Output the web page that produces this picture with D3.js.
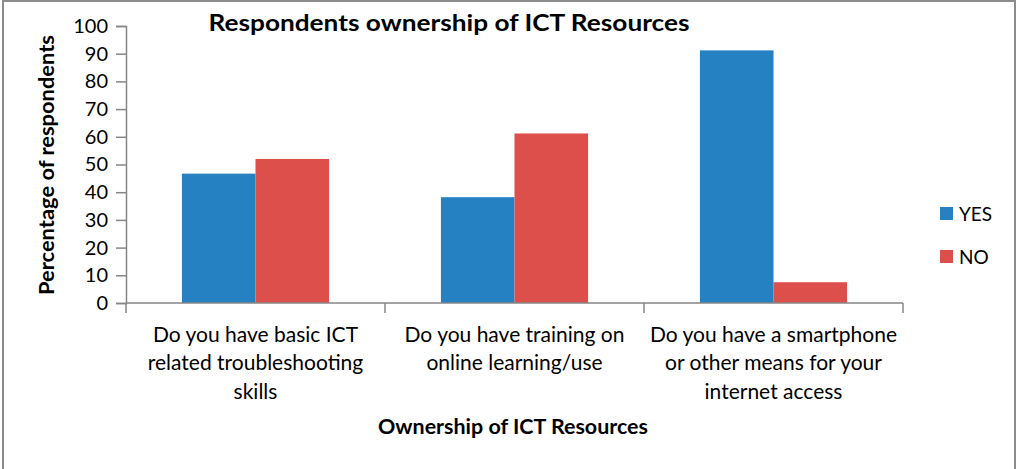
<!DOCTYPE html>
<html>
<head>
<meta charset="utf-8">
<script src="https://cdn.jsdelivr.net/npm/d3@7"></script>
<style>
  body { margin: 0; background: #fff; }
  svg text { font-family: Lato, "Open Sans", sans-serif; fill: #000; }
</style>
</head>
<body>
<div class="chart"></div>
<script>
// data
var categories = [
    ["Do you have basic ICT", "related troubleshooting", "skills"],
    ["Do you have training on", "online learning/use"],
    ["Do you have a smartphone", "or other means for your", "internet access"]
];
var seriesNames = ["YES", "NO"];
var yesValues = [46.7, 38.2, 91.2];
var noValues = [52.0, 61.2, 7.5];
var yTicks = [0, 10, 20, 30, 40, 50, 60, 70, 80, 90, 100];

var W = 1017, H = 469;
var margin = { top: 26, right: 114, bottom: 166, left: 126 },
    width = W - margin.left - margin.right,
    height = H - margin.top - margin.bottom;

var colors = { YES: "#2581c2", NO: "#dd4f4b" };

var svg = d3.select(".chart")
    .append("svg")
    .attr("width", W)
    .attr("height", H);

// outer frame
svg.append("path")
    .attr("d", "M3,470 V1 H1015 V470")
    .attr("fill", "none")
    .attr("stroke", "#8c8c8c")
    .attr("stroke-width", 2);

var g = svg.append("g")
    .attr("transform", "translate(" + margin.left + "," + margin.top + ")");

var keys = categories.map(function (d, i) { return i; });
var x = d3.scaleBand().domain(keys).range([0, width]);
var x1 = d3.scaleBand().domain(seriesNames).range([0, x.bandwidth()])
    .paddingInner(0).paddingOuter(0.76);
var y = d3.scaleLinear().domain([0, 100]).range([height, 0]);

var rows = keys.map(function (i) {
    return { i: i, YES: yesValues[i], NO: noValues[i] };
});

// bars
var groups = g.selectAll(".grp")
    .data(rows)
    .enter()
    .append("g")
    .attr("transform", function (d) { return "translate(" + x(d.i) + ",0)"; });

groups.selectAll("rect")
    .data(function (d) { return seriesNames.map(function (k) { return { key: k, value: d[k] }; }); })
    .enter()
    .append("rect")
    .attr("x", function (d) { return x1(d.key); })
    .attr("width", x1.bandwidth())
    .attr("y", function (d) { return y(d.value); })
    .attr("height", function (d) { return height - y(d.value); })
    .attr("fill", function (d) { return colors[d.key]; });

// y axis
var yAxis = g.append("g")
    .call(d3.axisLeft(y).tickValues(yTicks).tickSize(10).tickPadding(8));
yAxis.select(".domain").attr("stroke", "#868686").attr("stroke-width", 1.5);
yAxis.selectAll(".tick line").attr("stroke", "#868686").attr("stroke-width", 1.5);
yAxis.selectAll("text").style("font-size", "20px").style("font-family", "Lato, sans-serif").attr("fill", "#000");

// x axis: ticks at category boundaries
var xAxisG = g.append("g").attr("transform", "translate(0," + height + ")");
xAxisG.append("line")
    .attr("x1", 0).attr("x2", width)
    .attr("stroke", "#868686").attr("stroke-width", 1.5);
xAxisG.selectAll(".bt")
    .data(keys.concat([keys.length]))
    .enter()
    .append("line")
    .attr("x1", function (d) { return d * x.step(); })
    .attr("x2", function (d) { return d * x.step(); })
    .attr("y1", 0).attr("y2", 10)
    .attr("stroke", "#868686").attr("stroke-width", 1.5);

// category labels
var labels = xAxisG.selectAll(".cat")
    .data(rows)
    .enter()
    .append("text")
    .attr("text-anchor", "middle")
    .style("font-size", "21px")
    .attr("transform", function (d) { return "translate(" + (x(d.i) + x.bandwidth() / 2) + ",39)"; });
labels.selectAll("tspan")
    .data(function (d) { return categories[d.i]; })
    .enter()
    .append("tspan")
    .attr("x", 0)
    .attr("y", function (d, j) { return j * 28.3; })
    .text(function (d) { return d; });

// titles
svg.append("text")
    .attr("x", 449).attr("y", 31)
    .attr("text-anchor", "middle")
    .attr("textLength", 481)
    .attr("lengthAdjust", "spacingAndGlyphs")
    .style("font-size", "22px")
    .style("font-weight", "bold")
    .text("Respondents ownership of ICT Resources");

svg.append("text")
    .attr("x", 513).attr("y", 434)
    .attr("text-anchor", "middle")
    .attr("textLength", 270)
    .attr("lengthAdjust", "spacingAndGlyphs")
    .style("font-size", "20px")
    .style("font-weight", "bold")
    .text("Ownership of ICT Resources");

svg.append("text")
    .attr("transform", "translate(54,165) rotate(-90)")
    .attr("text-anchor", "middle")
    .attr("textLength", 260)
    .attr("lengthAdjust", "spacingAndGlyphs")
    .style("font-size", "20px")
    .style("font-weight", "bold")
    .text("Percentage of respondents");

// legend
var legend = svg.selectAll(".leg")
    .data(seriesNames)
    .enter()
    .append("g")
    .attr("transform", function (d, i) { return "translate(940," + (207 + i * 43) + ")"; });
legend.append("rect")
    .attr("width", 13).attr("height", 13)
    .attr("fill", function (d) { return colors[d]; });
legend.append("text")
    .attr("x", 19).attr("y", 13.5)
    .style("font-size", "19px")
    .text(function (d) { return d; });
</script>
</body>
</html>
